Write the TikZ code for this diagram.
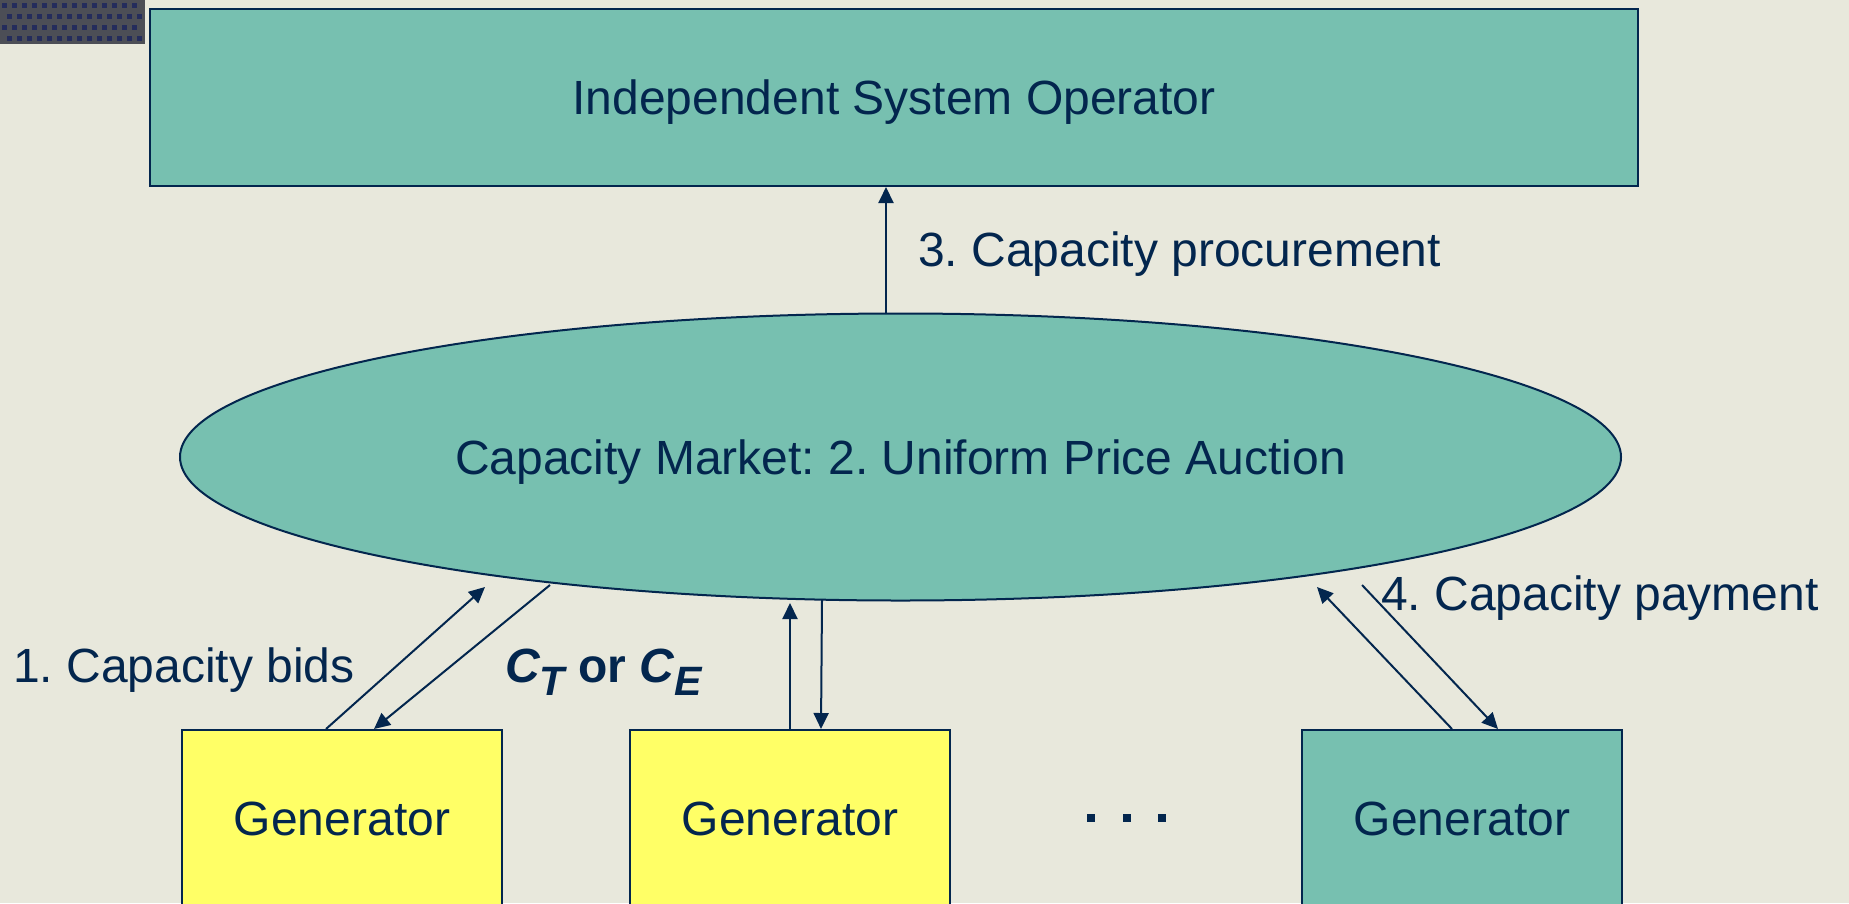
\documentclass[tikz,border=0pt]{standalone}
\usepackage{fontspec}
\setmainfont{Liberation Sans}
\usetikzlibrary{shapes.geometric,arrows.meta,positioning,calc}
\definecolor{slidebg}{RGB}{232,232,220}
\definecolor{patchgrey}{RGB}{76,78,86}
\definecolor{patchblue}{RGB}{36,44,92}
\definecolor{navyline}{RGB}{3,38,78}
\definecolor{tealfill}{RGB}{119,192,176}
\definecolor{genyellow}{RGB}{255,255,102}
\frenchspacing

\begin{document}
\begin{tikzpicture}[x=1pt,y=-1pt,
    every node/.style={font=\fontsize{48}{57}\selectfont, text=navyline},
    box/.style={draw=navyline, line width=2pt, inner sep=0pt, text depth=0pt},
    arr/.style={-{Triangle[length=16pt,width=15pt]}, draw=navyline, line width=2pt}]
    % Slide background
    \useasboundingbox (0,0) rectangle (1849,903);
    \fill[slidebg] (0,0) rectangle (1849,903);
    \fill[patchgrey] (0,0) rectangle (145,44);
    \foreach \i in {0,...,13} {
        \foreach \j in {0,...,3} {
            \pgfmathsetmacro{\sx}{\i*10+2+mod(\j,2)*5}
            \fill[patchblue] (\sx,\j*11+3) rectangle ++(5,5);
        }
    }

    % Operator and market
    \node[box, fill=tealfill, minimum width=1488pt, minimum height=177pt] (iso) at (894,97.5) {Independent System Operator};
    \node[box, ellipse, fill=tealfill, minimum width=1441pt, minimum height=287pt] (market) at (900.5,457) {Capacity Market: 2. Uniform Price Auction};

    % Generators
    \foreach \n/\x/\c in {1/342/genyellow,2/790/genyellow,3/1462/tealfill} {
        \node[box, fill=\c, minimum width=320pt, minimum height=178pt] (gen\n) at (\x,819) {Generator};
    }
    \foreach \x in {1091,1127,1162} {
        \fill[navyline] (\x-4,814) rectangle (\x+4,822);
    }

    % Labels
    \node[anchor=base west, inner sep=0pt] (proc) at (918,266) {3. Capacity procurement};
    \node[anchor=base west, inner sep=0pt] (bids) at (13,682) {1. Capacity bids};
    \node[anchor=base west, inner sep=0pt] (pay) at (1381,610) {4. Capacity payment};
    \node[anchor=base west, inner sep=0pt] (cost) at (505,682) {\bfseries\itshape C\raisebox{-13pt}{\fontsize{41}{41}\selectfont T}\upshape{} or \itshape C\raisebox{-13pt}{\fontsize{41}{41}\selectfont E}};

    % Arrows (rim points of the market ellipse)
    \coordinate (m3) at (886,314);
    \coordinate (m1a) at (485,587);
    \coordinate (m1b) at (550,585);
    \coordinate (m2a) at (790,603);
    \coordinate (m2b) at (822,600);
    \coordinate (m4a) at (1317,587);
    \coordinate (m4b) at (1362,585);
    \draw[arr] (m3) -- (m3 |- iso.south);
    \draw[arr] ($(gen1.north west)+(145,0)$) -- (m1a);
    \draw[arr] (m1b) -- ($(gen1.north west)+(193,0)$);
    \draw[arr] (gen2.north) -- (m2a);
    \draw[arr] (m2b) -- ($(gen2.north west)+(192,0)$);
    \draw[arr] ($(gen3.north west)+(151,0)$) -- (m4a);
    \draw[arr] (m4b) -- ($(gen3.north west)+(197,0)$);
\end{tikzpicture}
\end{document}
